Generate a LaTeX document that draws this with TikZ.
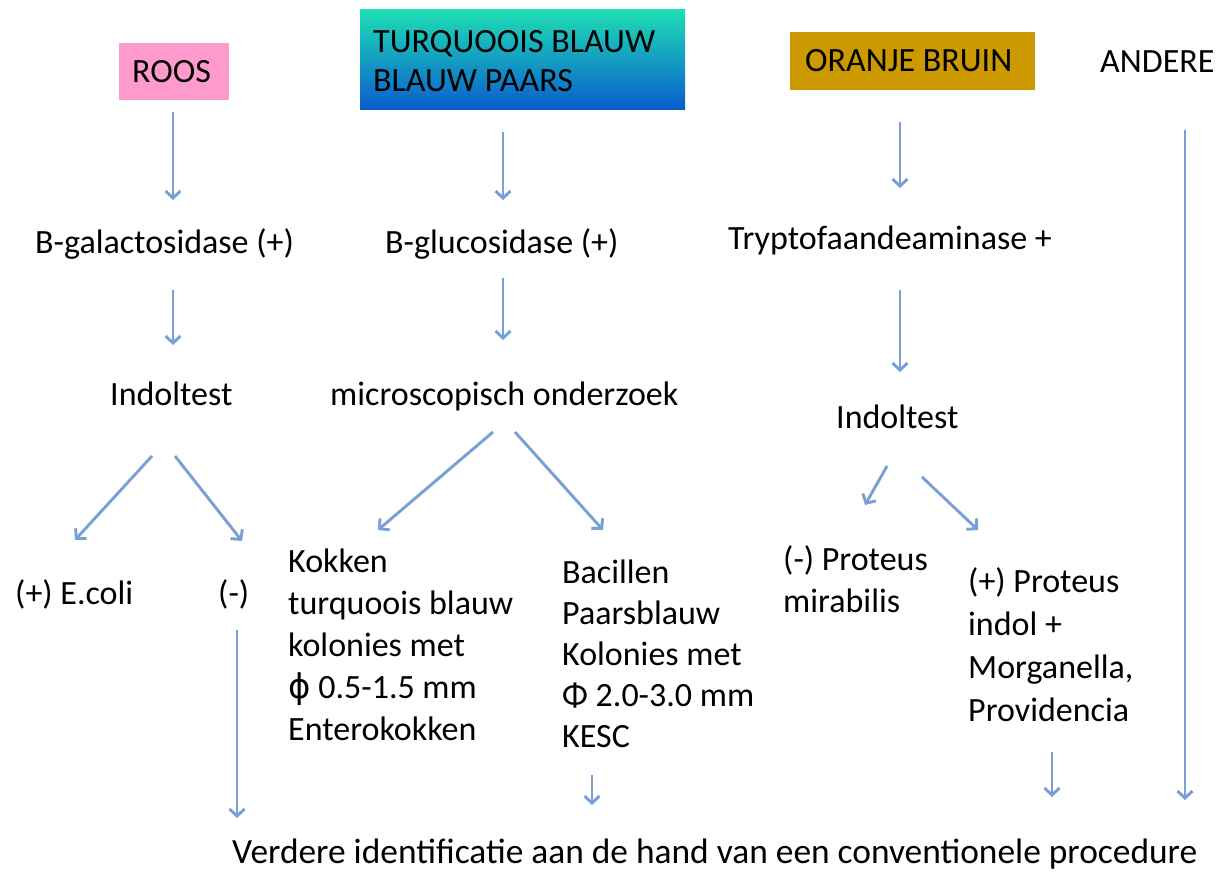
\documentclass[tikz,border=0pt]{standalone}
\usepackage{fontspec}
\setmainfont{Carlito}
\newfontfamily\symfont{DejaVu Sans}
\usepackage{xcolor}
\usetikzlibrary{arrows.meta}
\definecolor{flowblue}{HTML}{78A0D7}
\definecolor{roospink}{HTML}{FF9ACD}
\definecolor{turqtop}{HTML}{1EDDB4}
\definecolor{turqmid}{HTML}{1EB4E6}
\definecolor{turqbot}{HTML}{0A5CCF}
\definecolor{oranjebruin}{HTML}{CC9900}
\tikzset{
  flow/.style={draw=flowblue, line width=2.9pt, -{Straight Barb[length=7pt,width=15pt]}},
  lab/.style={font=\fontsize{34}{42}\selectfont, inner sep=0pt, align=left, anchor=base west},
}

\begin{document}
\begin{tikzpicture}[x=1pt,y=-1pt]
  \useasboundingbox[fill=white] (0,0) rectangle (1232,877);

  % colour boxes
  \fill[roospink] (119,43) rectangle (229,100);
  \shade[top color=turqtop, middle color=turqmid, bottom color=turqbot] (360,10) rectangle (685,110);
  \fill[oranjebruin] (790,32) rectangle (1035,90);

  % texts (base = baseline of the last line)
  \node[lab] (roos) at (132,83) {ROOS};
  \node[lab, font=\fontsize{34}{39}\selectfont] (turq) at (373,92) {TURQUOOIS BLAUW\\BLAUW PAARS};
  \node[lab] (oranje) at (805,72) {ORANJE BRUIN};
  \node[lab] (andere) at (1100,73) {ANDERE};

  \node[lab] (gal) at (35,254) {B-galactosidase (+)};
  \node[lab] (gluc) at (385,254) {B-glucosidase (+)};
  \node[lab] (trypt) at (728,250) {Tryptofaandeaminase +};

  \node[lab] (indolL) at (110,406) {Indoltest};
  \node[lab] (micro) at (330,406) {microscopisch onderzoek};
  \node[lab] (indolR) at (836,428) {Indoltest};

  \node[lab] (ecoli) at (15,604) {(+) E.coli};
  \node[lab] (neg) at (218,604) {(-)};
  \node[lab] (kokken) at (288,740) {Kokken\\turquoois blauw\\kolonies met\\{\symfont ϕ} 0.5-1.5 mm\\Enterokokken};
  \node[lab, font=\fontsize{34}{41}\selectfont] (bacillen) at (562,747) {Bacillen\\Paarsblauw\\Kolonies met\\Φ 2.0-3.0 mm\\KESC};
  \node[lab] (protneg) at (783,612) {(-) Proteus\\mirabilis};
  \node[lab, font=\fontsize{34}{43}\selectfont] (protpos) at (968,721) {(+) Proteus\\indol +\\Morganella,\\Providencia};

  \node[lab, font=\fontsize{35.4}{42}\selectfont] (verder) at (232,863) {Verdere identificatie aan de hand van een conventionele procedure};

  % arrow ends
  \coordinate (roos-o) at (173,112);   \coordinate (gal-i) at (173,200);
  \coordinate (turq-o) at (503,132);   \coordinate (gluc-i) at (503,200);
  \coordinate (oranje-o) at (900,122); \coordinate (trypt-i) at (900,188);
  \coordinate (andere-o) at (1185,130); \coordinate (andere-e) at (1185,800);
  \coordinate (gal-o) at (173,290);    \coordinate (indolL-i) at (173,345);
  \coordinate (gluc-o) at (503,278);   \coordinate (micro-i) at (503,340);
  \coordinate (trypt-o) at (900,290);  \coordinate (indolR-i) at (900,372);

  \draw[flow] (roos-o) -- (gal-i);
  \draw[flow] (turq-o) -- (gluc-i);
  \draw[flow] (oranje-o) -- (trypt-i);
  \draw[flow] (andere-o) -- (andere-e);
  \draw[flow] (gal-o) -- (indolL-i);
  \draw[flow] (gluc-o) -- (micro-i);
  \draw[flow] (trypt-o) -- (indolR-i);

  \draw[flow] (152,456) coordinate (indolL-a) -- (75,540) coordinate (ecoli-i);
  \draw[flow] (175,456) coordinate (indolL-b) -- (242,541) coordinate (neg-i);
  \draw[flow] (493,432) coordinate (micro-a) -- (378,530) coordinate (kokken-i);
  \draw[flow] (515,432) coordinate (micro-b) -- (603,530) coordinate (bacillen-i);
  \draw[flow] (887,466) coordinate (indolR-a) -- (865,505) coordinate (protneg-i);
  \draw[flow] (922,477) coordinate (indolR-b) -- (978,530) coordinate (protpos-i);

  \draw[flow] (237,630) coordinate (neg-o) -- (237,818) coordinate (verder-a);
  \draw[flow] (592,775) coordinate (bacillen-o) -- (592,805) coordinate (verder-b);
  \draw[flow] (1052,752) coordinate (protpos-o) -- (1052,797) coordinate (verder-c);
\end{tikzpicture}
\end{document}
